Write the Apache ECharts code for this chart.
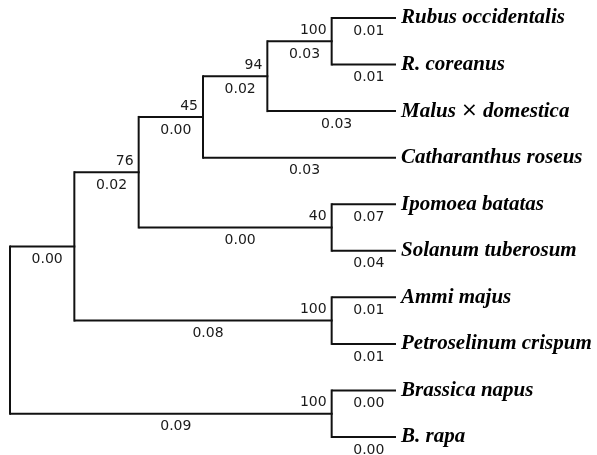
<!DOCTYPE html>
<html>
<head>
<meta charset="utf-8">
<script src="https://cdn.jsdelivr.net/npm/echarts@6/dist/echarts.min.js"></script>
<style>
  html, body { margin: 0; padding: 0; background: #fff; }
  #chart { width: 597px; height: 455px; }
</style>
</head>
<body>
<div id="chart"></div>
<script>
// leaves, top to bottom
const taxa = [
  'Rubus occidentalis', 'R. coreanus', 'Malus {x|×} domestica', 'Catharanthus roseus',
  'Ipomoea batatas', 'Solanum tuberosum', 'Ammi majus', 'Petroselinum crispum',
  'Brassica napus', 'B. rapa'
];
const leafLengths = [0.01, 0.01, 0.03, 0.03, 0.07, 0.04, 0.01, 0.01, 0.00, 0.00];

// internal nodes: ids start after the leaves (10, 11, ...), last one is the root
const nodeChildren = [[0, 1], [10, 2], [11, 3], [4, 5], [12, 13], [6, 7], [14, 15], [8, 9], [16, 17]];
const nodeSupport = [100, 94, 45, 40, 76, 100, null, 100, null];
const nodeLengths = [0.03, 0.02, 0.00, 0.00, 0.02, 0.08, 0.00, 0.09, null];

// cladogram layout: leaves at depth 6, internal node one step left of its closest child
const nLeaf = taxa.length;
const posX = [], posY = [], parent = [], lengths = [], support = [];
taxa.forEach((t, i) => { posX.push(6); posY.push(i); lengths.push(leafLengths[i]); support.push(null); });
nodeChildren.forEach((ch, k) => {
  const id = nLeaf + k;
  posX.push(Math.min(...ch.map(c => posX[c])) - 1);
  posY.push(ch.reduce((s, c) => s + posY[c], 0) / ch.length);
  lengths.push(nodeLengths[k]);
  support.push(nodeSupport[k]);
  ch.forEach(c => { parent[c] = id; });
});

const treeData = posX.map((x, id) => {
  const ch = id >= nLeaf ? nodeChildren[id - nLeaf] : null;
  const px = parent[id] !== undefined ? posX[parent[id]] : x;
  const top = ch ? posY[ch[0]] : posY[id];
  const bottom = ch ? posY[ch[ch.length - 1]] : posY[id];
  return [x, posY[id], px, top, bottom];
});

const numFont = { fontFamily: 'DejaVu Sans', fontSize: 14, fill: '#1a1a1a' };
const lineStyle = { stroke: '#111', lineWidth: 2 };

function renderItem(params, api) {
  const id = params.dataIndex;
  const p = api.coord([api.value(0), api.value(1)]);
  const pp = api.coord([api.value(2), api.value(1)]);
  const top = api.coord([api.value(0), api.value(3)]);
  const bottom = api.coord([api.value(0), api.value(4)]);
  const children = [];
  if (pp[0] !== p[0]) {
    children.push({ type: 'line', shape: { x1: pp[0], y1: p[1], x2: p[0] + (id < nLeaf ? 0 : 1), y2: p[1] }, style: lineStyle });
  }
  if (top[1] !== bottom[1]) {
    children.push({ type: 'line', shape: { x1: p[0], y1: top[1] - 1, x2: p[0], y2: bottom[1] + 1 }, style: lineStyle });
  }
  if (lengths[id] !== null && pp[0] !== p[0]) {
    children.push({
      type: 'text',
      style: Object.assign({ text: lengths[id].toFixed(2), x: (pp[0] + p[0]) / 2 + 5, y: p[1] + 13, align: 'center', verticalAlign: 'middle' }, numFont)
    });
  }
  if (support[id] !== null) {
    children.push({
      type: 'text',
      style: Object.assign({ text: String(support[id]), x: p[0] - 5, y: p[1] - 11, align: 'right', verticalAlign: 'middle' }, numFont)
    });
  }
  if (id < nLeaf) {
    children.push({
      type: 'text',
      style: {
        text: taxa[id], x: p[0] + 5, y: p[1], align: 'left', verticalAlign: 'middle',
        fontFamily: 'Liberation Serif', fontSize: 21, fontWeight: 'bold', fontStyle: 'italic', fill: '#000',
        rich: { x: { fontFamily: 'DejaVu Sans', fontSize: 20, fontWeight: 'normal', fontStyle: 'normal', fill: '#000' } }
      }
    });
  }
  return { type: 'group', children: children };
}

const chart = echarts.init(document.getElementById('chart'));
chart.setOption({
  animation: false,
  grid: { left: 10, right: 201, top: 18, bottom: 18 },
  xAxis: { type: 'value', min: 0, max: 6, show: false },
  yAxis: { type: 'value', min: 0, max: 9, inverse: true, show: false },
  series: [{
    type: 'custom',
    renderItem: renderItem,
    data: treeData,
    clip: false
  }]
});
</script>
</body>
</html>
